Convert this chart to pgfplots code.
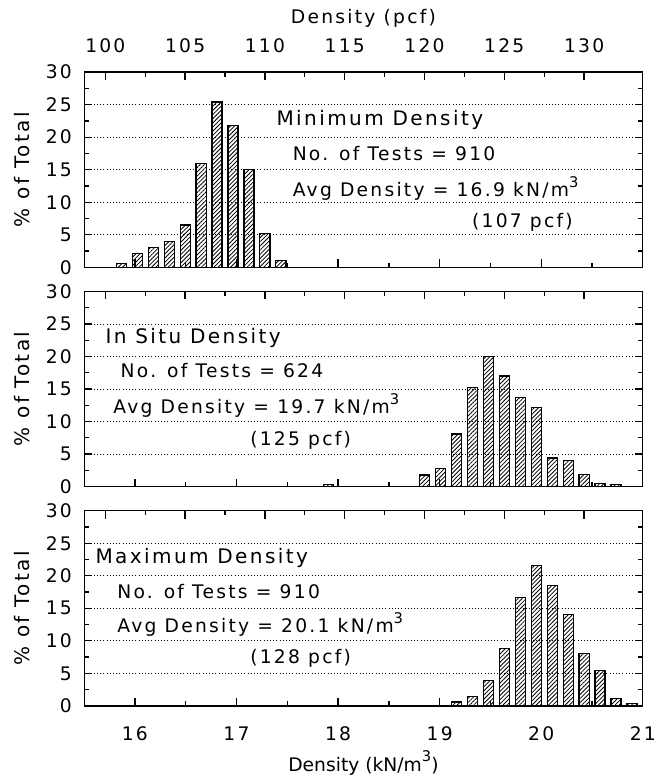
\documentclass[border=0pt]{standalone}
\usepackage{fontspec}
\setmainfont{DejaVu Sans}
\newfontfamily\annot[LetterSpace=12]{DejaVu Sans}
\usepackage{pgfplots}
\pgfplotsset{compat=1.18}
\usetikzlibrary{patterns.meta}

% histogram data: bin centre in pcf, percent of total
\pgfplotstableread{
pcf pct
101 0.6
102 2.1
103 3.0
104 4.0
105 6.5
106 16.0
107 25.4
108 21.8
109 15.0
110 5.2
111 1.1
}\minden

\pgfplotstableread{
pcf pct
114 0.3
120 1.8
121 2.8
122 8.1
123 15.2
124 20.0
125 17.0
126 13.7
127 12.1
128 4.4
129 4.0
130 1.9
131 0.5
132 0.3
}\insitu

\pgfplotstableread{
pcf pct
122 0.6
123 1.4
124 3.9
125 8.8
126 16.7
127 21.6
128 18.5
129 14.1
130 8.0
131 5.5
132 1.1
133 0.4
}\maxden

\newcommand\cube{\raisebox{0.9ex}{\fontsize{11}{11}\selectfont 3}}

\tikzset{
  txt/.style={font=\annot\fontsize{14}{16}\selectfont, inner sep=0pt, anchor=west},
  ttl/.style={font=\annot\fontsize{15}{17}\selectfont, inner sep=0pt, anchor=west},
}

\pgfplotsset{
  base/.style={
    scale only axis, width=418.5pt, height=146.25pt,
    ymin=0, ymax=30, clip=false,
    /pgf/number format/assume math mode=true,
    tick label style={font=\annot\fontsize{14}{15}\selectfont},
    tick align=inside, major tick length=6pt, minor tick length=3.5pt,
    axis line style={line width=0.9pt},
    every tick/.style={black, line width=1pt},
  },
  kN/.style={
    base,
    xmin=15.5, xmax=21,
    xtick={16,...,21}, minor x tick num=1, xtick pos=bottom,
    ytick={0,5,...,30}, minor y tick num=1, ytick pos=both,
    ymajorgrids, grid style={dotted, black, line width=0.6pt},
    yticklabel style={anchor=east, inner sep=0pt, xshift=-9pt},
    xticklabel style={anchor=center, yshift=-21pt},
    ylabel={\% of Total},
    ylabel style={at={(axis description cs:-0.111,0.5)}, anchor=center,
      font=\annot\fontsize{15}{17}\selectfont},
  },
  pcf/.style={
    base,
    xmin=98.67, xmax=133.68, hide y axis,
    xtick={100,105,...,130}, minor x tick num=1,
    xtick pos=top, xticklabel pos=top,
  },
  bars/.style={
    ybar, bar width=0.63, bar shift=0pt, draw=black, line width=0.9pt,
    pattern={Lines[angle=45, distance=2.2pt, line width=0.6pt]}, pattern color=black,
  },
}

\begin{document}
\begin{tikzpicture}

% ---- top panel: minimum density ----
\begin{axis}[kN, at={(0,328.5pt)}, xticklabels=\empty]
  \node[ttl] at (rel axis cs:0.344,0.754) {Minimum Density};
  \node[txt] at (rel axis cs:0.373,0.585) {No. of Tests = 910};
  \node[txt] at (rel axis cs:0.373,0.405) {Avg Density = 16.9 kN/m\cube};
  \node[txt] at (rel axis cs:0.694,0.231) {(107 pcf)};
\end{axis}
\begin{axis}[pcf, at={(0,328.5pt)},
    xticklabel style={anchor=center, yshift=19.5pt},
    xlabel={Density (pcf)},
    xlabel style={at={(axis description cs:0.5,1.277)}, anchor=center,
      font=\annot\fontsize{14}{16}\selectfont}]
  \addplot[bars] table[x=pcf, y=pct] {\minden};
\end{axis}

% ---- middle panel: in situ density ----
\begin{axis}[kN, at={(0,164.25pt)}, xticklabels=\empty]
  \node[ttl] at (rel axis cs:0.038,0.759) {In Situ Density};
  \node[txt] at (rel axis cs:0.065,0.595) {No. of Tests = 624};
  \node[txt] at (rel axis cs:0.052,0.415) {Avg Density = 19.7 kN/m\cube};
  \node[txt] at (rel axis cs:0.297,0.236) {(125 pcf)};
\end{axis}
\begin{axis}[pcf, at={(0,164.25pt)}, xticklabels=\empty]
  \addplot[bars] table[x=pcf, y=pct] {\insitu};
\end{axis}

% ---- bottom panel: maximum density ----
\begin{axis}[kN, at={(0,0)},
    xlabel={Density (kN/m\cube)},
    xlabel style={at={(axis description cs:0.5,-0.292)}, anchor=center,
      font=\fontsize{14}{16}\selectfont}]
  \node[ttl] at (rel axis cs:0.02,0.759) {Maximum Density};
  \node[txt] at (rel axis cs:0.059,0.585) {No. of Tests = 910};
  \node[txt] at (rel axis cs:0.059,0.415) {Avg Density = 20.1 kN/m\cube};
  \node[txt] at (rel axis cs:0.297,0.246) {(128 pcf)};
\end{axis}
\begin{axis}[pcf, at={(0,0)}, xticklabels=\empty]
  \addplot[bars] table[x=pcf, y=pct] {\maxden};
\end{axis}

\pgfresetboundingbox
\path[use as bounding box] (-63pt,-52.5pt) rectangle (429.75pt,528.75pt);
\end{tikzpicture}
\end{document}
